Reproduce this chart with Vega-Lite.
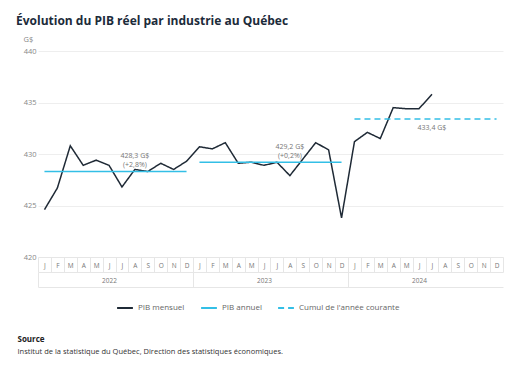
{
  "$schema": "https://vega.github.io/schema/vega-lite/v6.json",
  "width": 465,
  "height": 206,
  "autosize": "none",
  "padding": {"left": 38, "top": 51, "right": 29, "bottom": 112},
  "background": "white",
  "config": {
    "font": "Open Sans",
    "view": {"stroke": null}
  },
  "title": {
    "text": "Évolution du PIB réel par industrie au Québec",
    "anchor": "start",
    "frame": "group",
    "dx": -22,
    "offset": 7,
    "fontSize": 12,
    "fontWeight": "bold",
    "color": "#1c2b3a"
  },
  "resolve": {"axis": {"x": "independent"}, "scale": {"x": "shared"}},
  "layer": [
    {
      "data": {
        "values": [
          {"mois": "2022-01", "valeur": 424.6, "serie": "PIB mensuel"},
          {"mois": "2022-02", "valeur": 426.7, "serie": "PIB mensuel"},
          {"mois": "2022-03", "valeur": 430.8, "serie": "PIB mensuel"},
          {"mois": "2022-04", "valeur": 428.9, "serie": "PIB mensuel"},
          {"mois": "2022-05", "valeur": 429.4, "serie": "PIB mensuel"},
          {"mois": "2022-06", "valeur": 428.9, "serie": "PIB mensuel"},
          {"mois": "2022-07", "valeur": 426.8, "serie": "PIB mensuel"},
          {"mois": "2022-08", "valeur": 428.5, "serie": "PIB mensuel"},
          {"mois": "2022-09", "valeur": 428.3, "serie": "PIB mensuel"},
          {"mois": "2022-10", "valeur": 429.1, "serie": "PIB mensuel"},
          {"mois": "2022-11", "valeur": 428.5, "serie": "PIB mensuel"},
          {"mois": "2022-12", "valeur": 429.3, "serie": "PIB mensuel"},
          {"mois": "2023-01", "valeur": 430.7, "serie": "PIB mensuel"},
          {"mois": "2023-02", "valeur": 430.5, "serie": "PIB mensuel"},
          {"mois": "2023-03", "valeur": 431.1, "serie": "PIB mensuel"},
          {"mois": "2023-04", "valeur": 429.1, "serie": "PIB mensuel"},
          {"mois": "2023-05", "valeur": 429.2, "serie": "PIB mensuel"},
          {"mois": "2023-06", "valeur": 428.9, "serie": "PIB mensuel"},
          {"mois": "2023-07", "valeur": 429.2, "serie": "PIB mensuel"},
          {"mois": "2023-08", "valeur": 427.9, "serie": "PIB mensuel"},
          {"mois": "2023-09", "valeur": 429.5, "serie": "PIB mensuel"},
          {"mois": "2023-10", "valeur": 431.1, "serie": "PIB mensuel"},
          {"mois": "2023-11", "valeur": 430.4, "serie": "PIB mensuel"},
          {"mois": "2023-12", "valeur": 423.8, "serie": "PIB mensuel"},
          {"mois": "2024-01", "valeur": 431.2, "serie": "PIB mensuel"},
          {"mois": "2024-02", "valeur": 432.1, "serie": "PIB mensuel"},
          {"mois": "2024-03", "valeur": 431.5, "serie": "PIB mensuel"},
          {"mois": "2024-04", "valeur": 434.5, "serie": "PIB mensuel"},
          {"mois": "2024-05", "valeur": 434.4, "serie": "PIB mensuel"},
          {"mois": "2024-06", "valeur": 434.4, "serie": "PIB mensuel"},
          {"mois": "2024-07", "valeur": 435.8, "serie": "PIB mensuel"}
        ]
      },
      "mark": {"type": "line", "strokeWidth": 1.5},
      "encoding": {
        "x": {
          "field": "mois",
          "type": "ordinal",
          "scale": {
            "type": "band",
            "domain": ["2022-01","2022-02","2022-03","2022-04","2022-05","2022-06","2022-07","2022-08","2022-09","2022-10","2022-11","2022-12","2023-01","2023-02","2023-03","2023-04","2023-05","2023-06","2023-07","2023-08","2023-09","2023-10","2023-11","2023-12","2024-01","2024-02","2024-03","2024-04","2024-05","2024-06","2024-07","2024-08","2024-09","2024-10","2024-11","2024-12"],
            "paddingInner": 0,
            "paddingOuter": 0
          },
          "axis": {
            "orient": "bottom",
            "labelExpr": "isString(datum.value) ? ['J','F','M','A','M','J','J','A','S','O','N','D'][toNumber(substring(datum.value,5,7))-1] : ''",
            "labelAngle": 0,
            "labelFontSize": 6.5,
            "labelColor": "#777777",
            "labelBaseline": "middle",
            "labelPadding": -7,
            "tickBand": "extent",
            "tickSize": 15,
            "tickColor": "#e6e6e6",
            "domainColor": "#e6e6e6",
            "title": "Source",
            "titleAngle": 0,
            "titleAlign": "left",
            "titleBaseline": "middle",
            "titleX": -21,
            "titleY": 82,
            "titleFontSize": 8,
            "titleFontWeight": "bold",
            "titleColor": "#222222"
          }
        },
        "y": {
          "field": "valeur",
          "type": "quantitative",
          "scale": {"domain": [420, 440], "zero": false, "nice": false},
          "axis": {
            "values": [420, 425, 430, 435, 440],
            "domain": false,
            "ticks": false,
            "labelPadding": 2,
            "labelFontSize": 7.5,
            "labelColor": "#888888",
            "gridColor": "#eeeeee",
            "title": "G$",
            "titleAngle": 0,
            "titleAlign": "left",
            "titleBaseline": "middle",
            "titleX": -15,
            "titleY": -12,
            "titleFontSize": 7.5,
            "titleFontWeight": "normal",
            "titleColor": "#888888"
          }
        },
        "color": {
          "field": "serie",
          "type": "nominal",
          "scale": {
            "domain": ["PIB mensuel", "PIB annuel", "Cumul de l'année courante"],
            "range": ["#1f2a36", "#33bfe6", "#33bfe6"]
          },
          "legend": {
            "orient": "none",
            "legendX": 78,
            "legendY": 248,
            "direction": "horizontal",
            "title": null,
            "symbolType": "stroke",
            "symbolSize": 250,
            "symbolStrokeWidth": 2,
            "labelFontSize": 8,
            "labelColor": "#666666",
            "columnPadding": 12
          }
        },
        "strokeDash": {
          "field": "serie",
          "type": "nominal",
          "scale": {
            "domain": ["PIB mensuel", "PIB annuel", "Cumul de l'année courante"],
            "range": [[1, 0], [1, 0], [6, 4]]
          }
        }
      }
    },
    {
      "data": {
        "values": [
          {"debut": "2022-01", "fin": "2022-12", "valeur": 428.3, "serie": "PIB annuel"},
          {"debut": "2023-01", "fin": "2023-12", "valeur": 429.2, "serie": "PIB annuel"},
          {"debut": "2024-01", "fin": "2024-12", "valeur": 433.4, "serie": "Cumul de l'année courante"}
        ]
      },
      "mark": {"type": "rule", "strokeWidth": 1.6},
      "encoding": {
        "x": {
          "field": "debut",
          "type": "ordinal",
          "axis": {
            "orient": "bottom",
            "values": ["2022-01", "2023-01", "2024-01"],
            "labelExpr": "isString(datum.value) ? substring(datum.value,0,4) : ''",
            "labelAngle": 0,
            "labelOffset": 71,
            "labelFontSize": 6.5,
            "labelColor": "#777777",
            "labelBaseline": "middle",
            "labelPadding": -7,
            "tickOffset": -6.46,
            "tickSize": 15,
            "tickColor": "#e6e6e6",
            "domainColor": "#e6e6e6",
            "offset": 15,
            "title": "Institut de la statistique du Québec, Direction des statistiques économiques.",
            "titleAngle": 0,
            "titleAlign": "left",
            "titleBaseline": "middle",
            "titleX": -21,
            "titleY": 79,
            "titleFontSize": 7.5,
            "titleFontWeight": "normal",
            "titleColor": "#333333"
          }
        },
        "x2": {"field": "fin"},
        "y": {"field": "valeur", "type": "quantitative"},
        "color": {"field": "serie", "type": "nominal"},
        "strokeDash": {"field": "serie", "type": "nominal"}
      }
    },
    {
      "data": {
        "values": [
          {"mois": "2022-08", "valeur": 428.3, "texte": "428,3 G$\n(+2,8%)"},
          {"mois": "2023-08", "valeur": 429.2, "texte": "429,2 G$\n(+0,2%)"}
        ]
      },
      "mark": {"type": "text", "baseline": "top", "dy": -19.5, "fontSize": 7, "color": "#777777", "lineBreak": "\n", "lineHeight": 9},
      "encoding": {
        "x": {"field": "mois", "type": "ordinal", "axis": null},
        "y": {"field": "valeur", "type": "quantitative"},
        "text": {"field": "texte"}
      }
    },
    {
      "data": {
        "values": [
          {"mois": "2024-07", "valeur": 433.4, "texte": "433,4 G$"}
        ]
      },
      "mark": {"type": "text", "baseline": "middle", "dy": 9, "fontSize": 7, "color": "#777777"},
      "encoding": {
        "x": {
          "field": "mois",
          "type": "ordinal",
          "axis": {"orient": "bottom", "labels": false, "ticks": false, "domain": true, "domainColor": "#e6e6e6", "offset": 30, "title": null}
        },
        "y": {"field": "valeur", "type": "quantitative"},
        "text": {"field": "texte"}
      }
    }
  ]
}
